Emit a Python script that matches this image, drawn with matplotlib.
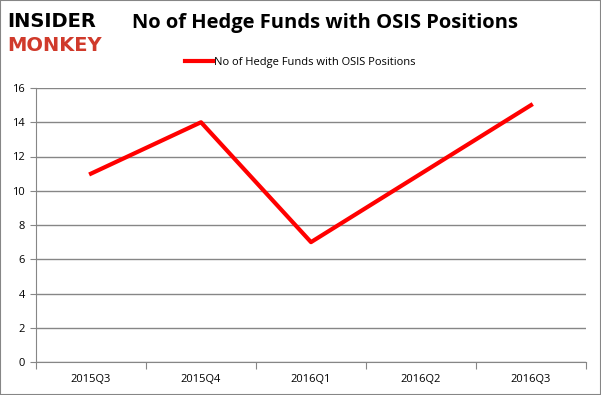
import matplotlib
matplotlib.use("Agg")
from matplotlib import pyplot as plt
from matplotlib.patches import Rectangle

quarters = ["2015Q3", "2015Q4", "2016Q1", "2016Q2", "2016Q3"]
funds = [11, 14, 7, 11, 15]
yticks = [0, 2, 4, 6, 8, 10, 12, 14, 16]
series_name = "No of Hedge Funds with OSIS Positions"

plt.rcParams['font.family'] = ['Open Sans', 'DejaVu Sans']

fig = plt.figure(figsize=(6.01, 3.95), dpi=100)
ax = fig.add_axes([36 / 601, 1 - 362 / 395, 550 / 601, 274 / 395])

x = [i + 0.5 for i in range(len(quarters))]
ax.plot(x, funds, color="#ff0000", linewidth=3, label=series_name)

ax.set_xlim(0, len(quarters))
ax.set_ylim(0, 16)
ax.set_yticks(yticks)
ax.set_xticks(range(len(quarters) + 1))
ax.set_xticklabels([])
ax.set_xticks(x, minor=True)
ax.set_xticklabels(quarters, minor=True)
ax.tick_params(axis="x", which="minor", length=0, labelsize=8, pad=9)
ax.tick_params(axis="x", which="major", length=5, color="#868686", direction="out")
ax.tick_params(axis="y", length=4, color="#868686", labelsize=8, pad=4)

ax.grid(axis="y", color="#868686", linewidth=1)
ax.set_axisbelow(True)
for s in ["top", "right"]:
    ax.spines[s].set_visible(False)
for s in ["left", "bottom"]:
    ax.spines[s].set_color("#868686")

fig.text(0.54, 0.942, series_name, ha="center", va="center", fontsize=14.5, fontweight="bold")
fig.legend(loc="center", bbox_to_anchor=(0.5, 1 - 62 / 395), frameon=False,
           fontsize=8, handlelength=2.5, handletextpad=0.1)

# logo
fig.text(0.012, 0.945, "INSIDER", fontsize=14, fontweight="bold", color="black",
         va="center", ha="left", family="DejaVu Sans")
fig.text(0.012, 0.885, "MONKEY", fontsize=14, fontweight="bold", color="#d03a2b",
         va="center", ha="left", family="DejaVu Sans")

fig.patches.append(Rectangle((0, 0), 1, 1, transform=fig.transFigure, fill=False,
                             edgecolor="#868686", linewidth=1.5))

fig.savefig("out.png", dpi=100)
